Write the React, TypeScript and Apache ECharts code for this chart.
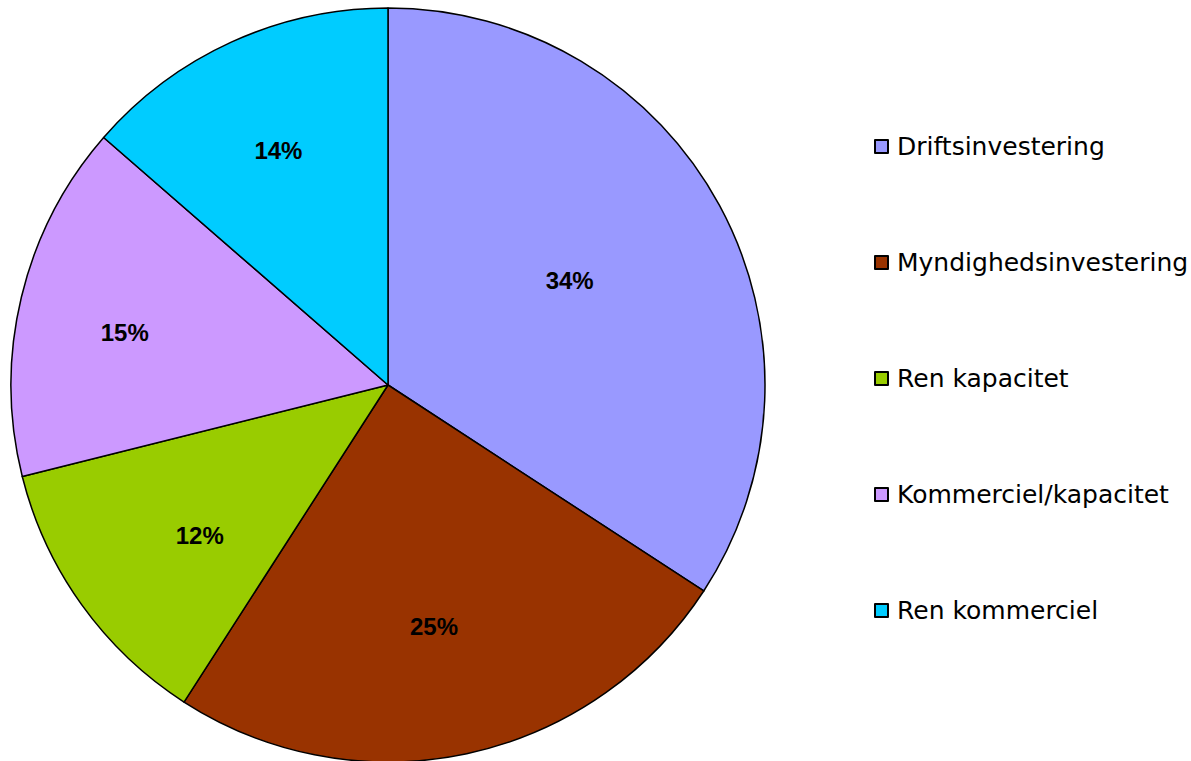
import React, { useEffect, useRef } from "react";
import * as echarts from "echarts";

const categories = [
  "Driftsinvestering",
  "Myndighedsinvestering",
  "Ren kapacitet",
  "Kommerciel/kapacitet",
  "Ren kommerciel",
];
const values = [34.2, 24.9, 12.0, 15.3, 13.6];
const colors = ["#9999FF", "#993300", "#99CC00", "#CC99FF", "#00CCFF"];
// label placement (style only): distance from centre as fraction of radius, and angular shift in degrees
const labelRadiusFrac = [0.548, 0.644, 0.631, 0.704, 0.678];
const labelAngleShift = [-1.5, 1.3, -3.0, -2.3, -0.6];

const CX = 388;
const CY = 385;
const R = 377;

export default function App() {
  const ref = useRef<HTMLDivElement>(null);
  useEffect(() => {
    document.body.style.margin = "0";
    const chart = echarts.init(ref.current!, null, { renderer: "svg" });
    const total = values.reduce((a, b) => a + b, 0);
    const mids: number[] = [];
    let acc = 0;
    values.forEach((v) => {
      mids.push(((acc + v / 2) / total) * Math.PI * 2);
      acc += v;
    });
    chart.setOption({
      animation: false,
      backgroundColor: "#ffffff",
      legend: {
        orient: "vertical",
        left: 869,
        top: 129,
        itemWidth: 13,
        itemHeight: 13,
        itemGap: 91,
        icon: "rect",
        itemStyle: { borderColor: "#000", borderWidth: 2 },
        textStyle: {
          fontFamily: "DejaVu Sans",
          fontSize: 25,
          color: "#000",
          lineHeight: 25,
          padding: [0, 0, 0, 4],
        },
        data: categories,
      },
      series: [
        {
          type: "pie",
          center: [CX, CY],
          radius: [0, R],
          startAngle: 90,
          clockwise: true,
          avoidLabelOverlap: false,
          data: categories.map((c, i) => ({
            name: c,
            value: values[i],
            itemStyle: { color: colors[i] },
          })),
          itemStyle: { borderColor: "#000", borderWidth: 1.5 },
          label: {
            position: "inside",
            formatter: (p: any) => Math.round(p.value) + "%",
            fontFamily: "Liberation Sans",
            fontWeight: "bold",
            fontSize: 24,
            color: "#000",
          },
          labelLine: { show: false },
          labelLayout: (p: any) => {
            const i = p.dataIndex;
            const a0 = mids[i];
            const a1 = a0 + (labelAngleShift[i] * Math.PI) / 180;
            const r0 = 0.5 * R;
            const r1 = labelRadiusFrac[i] * R;
            return {
              dx: r1 * Math.sin(a1) - r0 * Math.sin(a0),
              dy: -r1 * Math.cos(a1) + r0 * Math.cos(a0),
            };
          },
          emphasis: { disabled: true },
        },
      ],
    });
    return () => chart.dispose();
  }, []);
  return (
    <div
      ref={ref}
      style={{ position: "fixed", left: 0, top: 0, width: 1191, height: 761 }}
    />
  );
}
